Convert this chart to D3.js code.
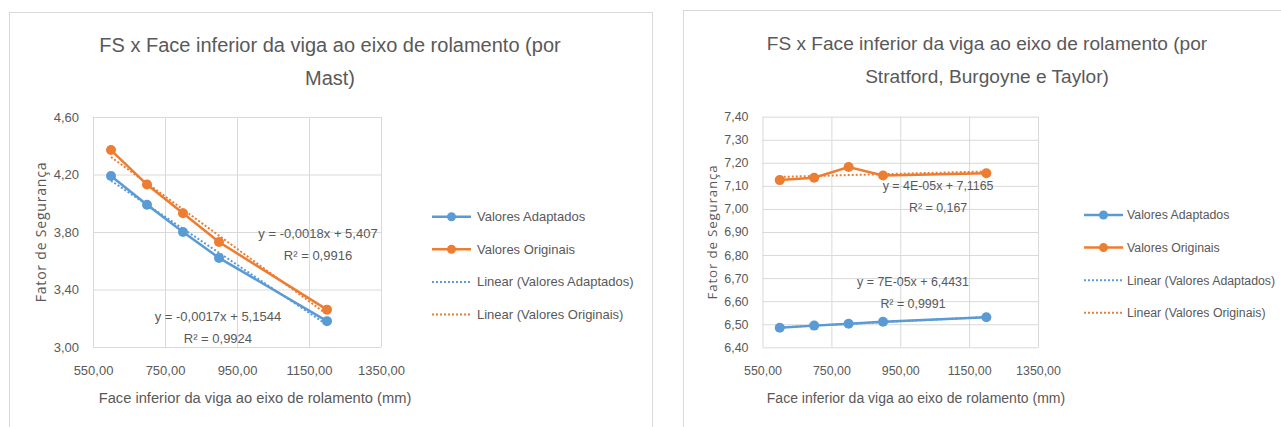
<!DOCTYPE html>
<html>
<head>
<meta charset="utf-8">
<script src="https://cdn.jsdelivr.net/npm/d3@7"></script>
<style>
  body { margin: 0; background: #fff; }
  text { font-family: "Liberation Sans", sans-serif; fill: #595959; }
</style>
</head>
<body>
<div id="grafico"></div>
<script>
// dados
const faceInferior = [600, 700, 800, 900, 1200];
const mastAdaptados = [4.19, 3.99, 3.80, 3.62, 3.18];
const mastOriginais = [4.37, 4.13, 3.93, 3.73, 3.26];
const sbtAdaptados = [6.485, 6.494, 6.502, 6.511, 6.530];
const sbtOriginais = [7.125, 7.135, 7.182, 7.145, 7.155];

const ticksX = [550, 750, 950, 1150, 1350];
const mastTicksY = [3.0, 3.4, 3.8, 4.2, 4.6];
const sbtTicksY = [6.4, 6.5, 6.6, 6.7, 6.8, 6.9, 7.0, 7.1, 7.2, 7.3, 7.4];

const series = ["Valores Adaptados", "Valores Originais"];
const legendLabels = ["Valores Adaptados", "Valores Originais", "Linear (Valores Adaptados)", "Linear (Valores Originais)"];

const mastTitle = ["FS x Face inferior da viga ao eixo de rolamento (por", "Mast)"];
const sbtTitle = ["FS x Face inferior da viga ao eixo de rolamento (por", "Stratford, Burgoyne e Taylor)"];
const mastTrendText = [["y = -0,0017x + 5,1544", "R² = 0,9924"], ["y = -0,0018x + 5,407", "R² = 0,9916"]];
const sbtTrendText = [["y = 7E-05x + 6,4431", "R² = 0,9991"], ["y = 4E-05x + 7,1165", "R² = 0,167"]];

const color = d3.scaleOrdinal().domain(series).range(["#5b9bd5", "#ed7d31"]);
const br = d3.formatLocale({ decimal: ",", thousands: ".", grouping: [3], currency: ["R$", ""] });
const fmt2 = br.format(".2f");

const width = 1281, height = 427;
const svg = d3.select("#grafico").append("svg").attr("width", width).attr("height", height);
svg.append("rect").attr("width", width).attr("height", height).attr("fill", "#fff");

// regressão linear simples
function linreg(xs, ys) {
  const mx = d3.mean(xs), my = d3.mean(ys);
  const sxy = d3.sum(xs, (x, i) => (x - mx) * (ys[i] - my));
  const sxx = d3.sum(xs, (x) => (x - mx) * (x - mx));
  const b = sxy / sxx;
  return { b, a: my - b * mx };
}

function grafico(cfg) {
  const k = cfg.k; // escala das fontes
  const g = svg.append("g");
  // moldura do painel
  g.append("rect")
    .attr("x", cfg.frame[0] + 0.5).attr("y", cfg.frame[1] + 0.5)
    .attr("width", cfg.frame[2]).attr("height", cfg.frame[3])
    .attr("fill", "none").attr("stroke", "#d9d9d9");

  cfg.title.forEach((t, i) => {
    g.append("text").attr("x", cfg.titleX).attr("y", cfg.titleY + i * 33)
      .attr("text-anchor", "middle").style("font-size", 20 * k + "px").text(t);
  });

  const x = d3.scaleLinear().domain([550, 1350]).range([cfg.plot.left, cfg.plot.right]);
  const y = d3.scaleLinear().domain(d3.extent(cfg.ticksY)).range([cfg.plot.bottom, cfg.plot.top]);

  // grades
  g.append("g").attr("transform", `translate(${cfg.plot.left},0)`)
    .call(d3.axisLeft(y).tickValues(cfg.ticksY).tickSize(-(cfg.plot.right - cfg.plot.left)).tickFormat(""))
    .call((s) => s.select(".domain").remove())
    .call((s) => s.selectAll("line").attr("stroke", "#d9d9d9"));
  g.append("g").attr("transform", `translate(0,${cfg.plot.bottom})`)
    .call(d3.axisBottom(x).tickValues(ticksX).tickSize(-(cfg.plot.bottom - cfg.plot.top)).tickFormat(""))
    .call((s) => s.select(".domain").remove())
    .call((s) => s.selectAll("line").attr("stroke", "#d9d9d9"));

  // rótulos dos eixos
  g.append("g").attr("transform", `translate(${cfg.plot.left - 11},0)`)
    .call(d3.axisLeft(y).tickValues(cfg.ticksY).tickSize(0).tickFormat(fmt2))
    .call((s) => s.select(".domain").remove())
    .selectAll("text").style("font-size", 13 * k + "px").attr("fill", "#595959")
    .style("font-family", "Liberation Sans, sans-serif");
  g.append("g").attr("transform", `translate(0,${cfg.plot.bottom + 16})`)
    .call(d3.axisBottom(x).tickValues(ticksX).tickSize(0).tickFormat(fmt2))
    .call((s) => s.select(".domain").remove())
    .selectAll("text").style("font-size", 13 * k + "px").attr("fill", "#595959")
    .style("font-family", "Liberation Sans, sans-serif");

  g.append("text")
    .attr("transform", `translate(${cfg.yTitleX},${(cfg.plot.top + cfg.plot.bottom) / 2}) rotate(-90)`)
    .attr("text-anchor", "middle").attr("dy", "0.35em")
    .style("font-family", "Open Sans, sans-serif").style("font-size", 14 * k + "px")
    .style("letter-spacing", "0.8px").attr("fill", "#595959")
    .text("Fator de Segurança");
  g.append("text").attr("x", cfg.xTitleX).attr("y", 398).attr("dy", "0.35em")
    .attr("text-anchor", "middle").style("font-size", 14.7 * k + "px")
    .text("Face inferior da viga ao eixo de rolamento (mm)");

  const valores = [cfg.adaptados, cfg.originais];
  const line = d3.line().x((d) => x(d[0])).y((d) => y(d[1]));

  // linhas de tendência
  valores.forEach((v, i) => {
    const r = linreg(faceInferior, v);
    const ext = d3.extent(faceInferior);
    g.append("path").datum(ext.map((xv) => [xv, r.a + r.b * xv]))
      .attr("d", line).attr("fill", "none").attr("stroke", color(series[i]))
      .attr("stroke-width", 2).attr("stroke-dasharray", "2 2");
  });

  // séries
  valores.forEach((v, i) => {
    const pts = faceInferior.map((xv, j) => [xv, v[j]]);
    g.append("path").datum(pts).attr("d", line).attr("fill", "none")
      .attr("stroke", color(series[i])).attr("stroke-width", 2.5);
    g.append("g").selectAll("circle").data(pts).join("circle")
      .attr("cx", (d) => x(d[0])).attr("cy", (d) => y(d[1])).attr("r", 5)
      .attr("fill", color(series[i]));
  });

  // equações
  cfg.trendText.forEach((lines, i) => {
    const p = cfg.trendPos[i];
    lines.forEach((t, j) => {
      g.append("text").attr("x", x(p[0])).attr("y", y(p[1]) + j * 22).attr("dy", "0.35em")
        .attr("text-anchor", "middle").style("font-size", 13 * k + "px").text(t);
    });
  });

  // legenda
  const lg = g.append("g").attr("transform", `translate(${cfg.legend[0]},${cfg.legend[1]})`);
  legendLabels.forEach((lab, i) => {
    const row = lg.append("g").attr("transform", `translate(0,${i * 32.6})`);
    const c = color(series[i % 2]);
    row.append("line").attr("x1", 0).attr("x2", 39).attr("y1", 0).attr("y2", 0)
      .attr("stroke", c).attr("stroke-width", i < 2 ? 2.5 : 2)
      .attr("stroke-dasharray", i < 2 ? null : "2 2");
    if (i < 2) row.append("circle").attr("cx", 19.5).attr("cy", 0).attr("r", 4.5).attr("fill", c);
    row.append("text").attr("x", cfg.legendTextX).attr("y", 0).attr("dy", "0.35em")
      .style("font-size", cfg.legendSize + "px").text(lab);
  });
}

grafico({
  k: 1,
  frame: [9, 12, 643, 430],
  title: mastTitle, titleX: 330, titleY: 52,
  plot: { left: 93, right: 381, top: 117, bottom: 347 },
  ticksY: mastTicksY,
  adaptados: mastAdaptados, originais: mastOriginais,
  trendText: mastTrendText, trendPos: [[897, 3.216], [1175, 3.79]],
  yTitleX: 41, xTitleX: 255,
  legend: [432, 216.7], legendTextX: 45, legendSize: 13,
});

grafico({
  k: 0.955,
  frame: [683, 10, 640, 430],
  title: sbtTitle, titleX: 987, titleY: 50,
  plot: { left: 762.5, right: 1038, top: 116.7, bottom: 347.3 },
  ticksY: sbtTicksY,
  adaptados: sbtAdaptados, originais: sbtOriginais,
  trendText: sbtTrendText, trendPos: [[987, 6.684], [1060, 7.10]],
  yTitleX: 712.6, xTitleX: 916,
  legend: [1084, 215], legendTextX: 43, legendSize: 12.3,
});
</script>
</body>
</html>
